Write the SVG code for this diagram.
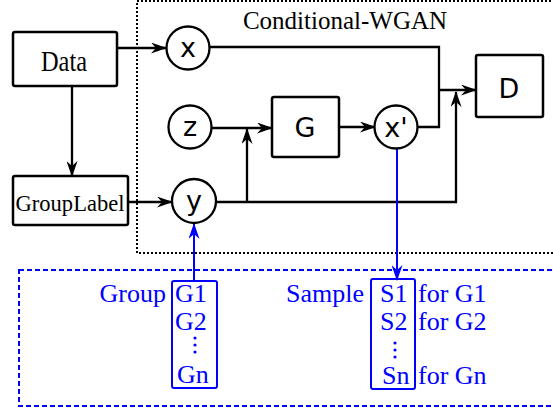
<svg xmlns="http://www.w3.org/2000/svg" width="553" height="410" viewBox="0 0 553 410">
<style>
.box{fill:#fff;stroke:#000;stroke-width:2.5}
.circ{fill:#fff;stroke:#000;stroke-width:2.3}
.ln{fill:none;stroke:#000;stroke-width:2.3}
.bl{fill:none;stroke:#00f;stroke-width:2}
.serif{font-family:"Liberation Serif","Times New Roman",serif}
.sans{font-family:"DejaVu Sans",sans-serif;font-size:27px}
.blt{font-family:"Liberation Serif","Times New Roman",serif;font-size:26px;fill:#00f}
</style>
<defs>
<marker id="ah" markerWidth="16" markerHeight="11" refX="15" refY="5.5" orient="auto" markerUnits="userSpaceOnUse">
<path d="M0,0 L16,5.5 L0,11 L5,5.5 Z" fill="#000"/>
</marker>
<marker id="ahb" markerWidth="16" markerHeight="11" refX="15" refY="5.5" orient="auto" markerUnits="userSpaceOnUse">
<path d="M0,0 L16,5.5 L0,11 L5,5.5 Z" fill="#00f"/>
</marker>
</defs>
<rect x="137" y="1" width="430" height="252" fill="none" stroke="#000" stroke-width="2" stroke-dasharray="2 2"/>
<rect x="19" y="270" width="550" height="136" fill="none" stroke="#00f" stroke-width="2" stroke-dasharray="5 3"/>
<text class="serif" x="345" y="29" font-size="25" text-anchor="middle">Conditional-WGAN</text>
<g id="connectors">
<line class="ln" x1="117" y1="48" x2="166" y2="48" marker-end="url(#ah)"/>
<line class="ln" x1="72" y1="86" x2="72" y2="176" marker-end="url(#ah)"/>
<line class="ln" x1="128" y1="202" x2="172" y2="202" marker-end="url(#ah)"/>
<line class="ln" x1="212" y1="128" x2="272" y2="128" marker-end="url(#ah)"/>
<line class="ln" x1="247" y1="202" x2="247" y2="129" marker-end="url(#ah)"/>
<line class="ln" x1="339" y1="127" x2="375" y2="127" marker-end="url(#ah)"/>
<polyline class="ln" points="210,47 439,47 439,90"/>
<polyline class="ln" points="418,127 439,127 439,90"/>
<line class="ln" x1="439" y1="90" x2="476" y2="90" marker-end="url(#ah)"/>
<polyline class="ln" points="216,202 456,202 456,92" marker-end="url(#ah)"/>
<line class="bl" x1="194" y1="281" x2="194" y2="224" marker-end="url(#ahb)"/>
<line class="bl" x1="397" y1="149" x2="397" y2="280" marker-end="url(#ahb)"/>
</g>
<g id="data"><rect class="box" x="13" y="32" width="104" height="54" rx="2"/><text class="serif" x="64" y="71" font-size="30" text-anchor="middle" textLength="46" lengthAdjust="spacingAndGlyphs">Data</text></g>
<g id="grouplabel"><rect class="box" x="13" y="176" width="115" height="49" rx="2"/><text class="serif" x="70" y="211" font-size="23" text-anchor="middle" textLength="109" lengthAdjust="spacingAndGlyphs">GroupLabel</text></g>
<g id="x"><circle class="circ" cx="188" cy="48" r="21.5"/><text class="sans" x="188" y="57" text-anchor="middle">x</text></g>
<g id="z"><circle class="circ" cx="190" cy="127" r="21.5"/><text class="sans" x="190" y="136" text-anchor="middle">z</text></g>
<g id="y"><circle class="circ" cx="194" cy="201" r="22"/><text class="sans" x="194" y="210" text-anchor="middle">y</text></g>
<g id="G"><rect class="box" x="272" y="97" width="67" height="60" rx="2"/><text class="sans" x="305" y="137" text-anchor="middle">G</text></g>
<g id="xp"><circle class="circ" cx="396" cy="127" r="21.5"/><text class="sans" x="396" y="137" text-anchor="middle">x'</text></g>
<g id="D"><rect class="box" x="476" y="55" width="67" height="62" rx="2"/><text class="sans" x="509" y="98" text-anchor="middle">D</text></g>
<g id="groups">
<text class="blt" x="166" y="302" text-anchor="end">Group</text>
<rect class="bl" x="172" y="281" width="45" height="107" rx="2"/>
<text class="blt" x="175" y="302">G1</text>
<text class="blt" x="175" y="330">G2</text>
<circle cx="195" cy="338" r="1.6" fill="#00f"/><circle cx="195" cy="345" r="1.6" fill="#00f"/><circle cx="195" cy="352" r="1.6" fill="#00f"/>
<text class="blt" x="177" y="383">Gn</text>
</g>
<g id="samples">
<text class="blt" x="364" y="302" text-anchor="end">Sample</text>
<rect class="bl" x="371" y="279" width="44" height="110" rx="2"/>
<text class="blt" x="380" y="302">S1</text>
<text class="blt" x="380" y="330">S2</text>
<circle cx="395" cy="343" r="1.6" fill="#00f"/><circle cx="395" cy="350" r="1.6" fill="#00f"/><circle cx="395" cy="357" r="1.6" fill="#00f"/>
<text class="blt" x="382" y="384">Sn</text>
<text class="blt" x="418" y="302">for G1</text>
<text class="blt" x="418" y="330">for G2</text>
<text class="blt" x="418" y="384">for Gn</text>
</g>
</svg>
